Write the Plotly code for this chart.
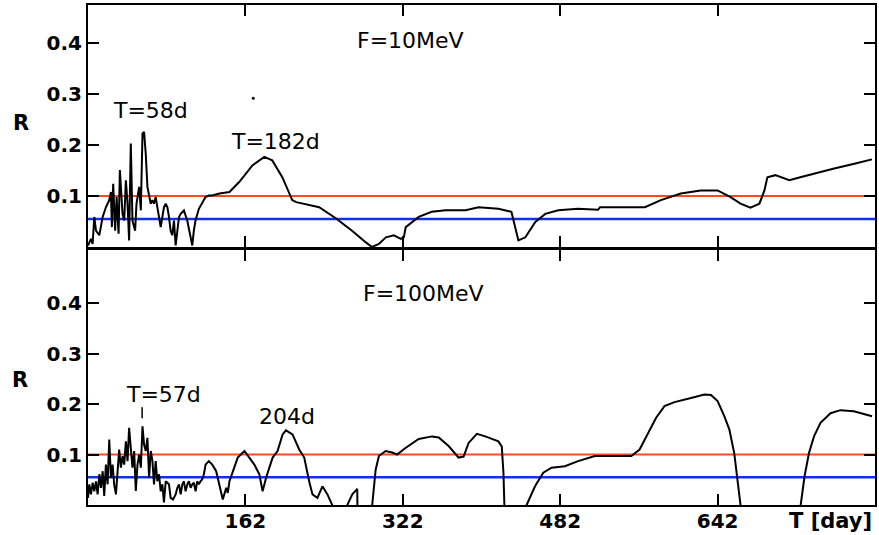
import plotly.graph_objects as go
from plotly.subplots import make_subplots

# ---------------- data ----------------
tick_days = [162, 322, 482, 642]
y_ticks = [0.1, 0.2, 0.3, 0.4]
red_level = 0.1
blue_level = 0.055

days_10 = [2, 5, 6.7, 8.4, 10.1, 13.5, 16.9, 20.2, 23.6, 25.3, 26.3, 27.6, 29.6, 31.1, 33.1,
           34.4, 37.1, 38.8, 40.5, 42.2, 43.8, 45.5, 47.2, 49.9, 51.3, 54, 55.7, 57.4, 59,
           60.7, 62.4, 64.1, 65.8, 67.5, 69.1, 70.8, 72.5, 74.2, 75.9, 77.6, 79.2, 81, 82.7,
           84.3, 86, 87.7, 89.4, 91.1, 92.8, 94.5, 96.2, 99.5, 102.9, 106.3, 108, 109.6,
           111.3, 114.7, 118.1, 121.5, 124.8, 128.2, 135.7, 145.8, 155.9, 169.1, 181.2,
           189.3, 199.5, 209.6, 213.7, 237, 254.2, 270.4, 284.5, 290.6, 297.7, 304.8, 312.9,
           320, 323, 325, 338.2, 351.4, 365.5, 385.8, 399, 419.2, 432.4, 434.4, 439.5, 446.6,
           456.7, 466.8, 480, 500.2, 520.5, 522.5, 568.1, 584.3, 604.6, 624.8, 642, 655.2,
           665.3, 675.4, 684.5, 689.6, 692.6, 700.7, 714.9, 726, 743, 760.5, 780, 798.9]
r_10 = [0.003, 0.016, 0.006, 0.059, 0.032, 0.023, 0.059, 0.078, 0.092, 0.108, 0.039, 0.124,
        0.032, 0.098, 0.026, 0.151, 0.065, 0.052, 0.131, 0.085, 0.013, 0.203, 0.052, 0.032,
        0.085, 0.118, 0.072, 0.223, 0.226, 0.183, 0.118, 0.098, 0.085, 0.092, 0.085, 0.098,
        0.078, 0.052, 0.039, 0.059, 0.078, 0.085, 0.078, 0.059, 0.032, 0.023, 0.052, 0.003,
        0.032, 0.059, 0.065, 0.072, 0.052, 0.023, 0.003, 0.032, 0.052, 0.075, 0.088, 0.098,
        0.101, 0.101, 0.105, 0.108, 0.128, 0.160, 0.177, 0.170, 0.137, 0.092, 0.088, 0.078,
        0.056, 0.032, 0.009, 0.0, 0.006, 0.019, 0.023, 0.016, 0.019, 0.039, 0.059, 0.069,
        0.072, 0.072, 0.078, 0.075, 0.069, 0.052, 0.013, 0.019, 0.049, 0.065, 0.072, 0.075,
        0.073, 0.078, 0.078, 0.092, 0.105, 0.111, 0.111, 0.098, 0.085, 0.077, 0.085, 0.111,
        0.137, 0.141, 0.131, 0.137, 0.146, 0.154, 0.163, 0.172]

days_100 = [2, 3.3, 5, 6.7, 8.4, 10.1, 11.8, 13.5, 15.2, 16.9, 18.5, 20.2, 21.9, 23.6, 25.3,
            27, 28.6, 30.4, 32.1, 33.7, 35.4, 37.1, 38.8, 40.5, 42.2, 43.8, 45.5, 47.2, 48.9,
            50.6, 52.3, 54, 55.7, 57.4, 59, 60.7, 62.4, 64.1, 65.8, 67.5, 69.1, 70.8, 72.5,
            74.2, 75.9, 77.6, 79.2, 81, 84.3, 86, 88.4, 91.1, 92.8, 94.5, 96.2, 97.9, 99.5,
            101.2, 103, 104.6, 106.3, 108, 109.6, 111.4, 113, 114.7, 116.4, 118.1, 119.8,
            121.5, 124.8, 128.3, 132.3, 135.7, 139, 142.5, 144.1, 145.8, 149.1, 154.2, 161,
            166.1, 171.1, 176.2, 179.5, 183, 189.7, 194.7, 199.8, 203.2, 209.9, 216.7, 221.8,
            226.8, 230.2, 235.2, 240.3, 245.4, 250.4, 257.2, 265.6, 270.7, 275.7, 276.1,
            282.5, 290.9, 294.4, 297.7, 304.5, 311.2, 316.2, 324.7, 338.2, 351.7, 358.5,
            368.6, 378.7, 383.8, 388.9, 397.3, 405.8, 419.2, 422.6, 424.3, 426, 437.5, 447.9,
            456.4, 464.8, 473.2, 486.8, 500.2, 517.2, 534, 554.3, 562.7, 571.1, 579.5, 588,
            598.2, 615, 628.6, 635.3, 642, 648.8, 653.9, 658.9, 662.3, 665.6, 668.4, 723,
            726.4, 730.4, 734.9, 740, 746.6, 756.8, 766.9, 780.5, 799]
r_100 = [0.014, 0.041, 0.021, 0.044, 0.027, 0.047, 0.021, 0.061, 0.034, 0.067, 0.018, 0.080,
         0.041, 0.130, 0.054, 0.080, 0.041, 0.021, 0.067, 0.110, 0.074, 0.097, 0.080, 0.126,
         0.087, 0.153, 0.113, 0.074, 0.107, 0.028, 0.080, 0.100, 0.074, 0.156, 0.120, 0.107,
         0.133, 0.054, 0.107, 0.087, 0.041, 0.087, 0.047, 0.061, 0.027, 0.041, 0.005, 0.047,
         0.041, 0.014, 0.011, 0.021, 0.034, 0.041, 0.021, 0.041, 0.047, 0.027, 0.041, 0.047,
         0.034, 0.041, 0.044, 0.027, 0.047, 0.041, 0.047, 0.051, 0.061, 0.080, 0.087, 0.080,
         0.067, 0.041, 0.011, 0.034, 0.024, 0.047, 0.067, 0.094, 0.107, 0.094, 0.080, 0.061,
         0.027, 0.054, 0.094, 0.107, 0.140, 0.148, 0.140, 0.110, 0.094, 0.047, 0.021, 0.014,
         0.037, 0.021, 0.0, -0.03, 0.0, 0.021, 0.032, -0.05, -0.05, 0.0, 0.070, 0.097, 0.107,
         0.104, 0.100, 0.113, 0.131, 0.136, 0.134, 0.117, 0.094, 0.096, 0.123, 0.141, 0.136,
         0.126, 0.116, 0.064, -0.05, -0.05, 0.0, 0.037, 0.064, 0.074, 0.077, 0.087, 0.097,
         0.097, 0.097, 0.110, 0.143, 0.173, 0.196, 0.204, 0.212, 0.219, 0.218, 0.206, 0.176,
         0.150, 0.103, 0.051, 0.0, -0.05, -0.05, 0.0, 0.057, 0.103, 0.136, 0.163, 0.182,
         0.188, 0.186, 0.176]

x_range = [2, 802]
top_range = [0, 0.475]
bot_range = [0, 0.5055]

# ---------------- figure ----------------
fig = make_subplots(rows=2, cols=1, shared_xaxes=False, vertical_spacing=0.0)

RED = "#ff4a1c"
BLUE = "#1030f0"

for row, days, vals in [(1, days_10, r_10), (2, days_100, r_100)]:
    fig.add_trace(go.Scatter(x=x_range, y=[red_level, red_level], mode="lines",
                             line=dict(color=RED, width=2), showlegend=False,
                             hoverinfo="skip"), row=row, col=1)
    fig.add_trace(go.Scatter(x=x_range, y=[blue_level, blue_level], mode="lines",
                             line=dict(color=BLUE, width=2.5), showlegend=False,
                             hoverinfo="skip"), row=row, col=1)
    fig.add_trace(go.Scatter(x=days, y=vals, mode="lines",
                             line=dict(color="black", width=2), showlegend=False),
                  row=row, col=1)

# stray dot in the upper panel
fig.add_trace(go.Scatter(x=[170], y=[0.292], mode="markers",
                         marker=dict(color="black", size=3), showlegend=False),
              row=1, col=1)

tick_font = dict(family="DejaVu Sans", size=20, color="black", weight="bold")
axis_common = dict(showgrid=False, zeroline=False, showline=True, linecolor="black",
                   linewidth=2, mirror="ticks", ticks="inside", ticklen=11, tickwidth=2,
                   tickcolor="black", tickfont=tick_font)

fig.update_xaxes(range=x_range, tickvals=tick_days, **axis_common)
fig.update_xaxes(showticklabels=False, row=1, col=1)
fig.update_xaxes(ticktext=[str(v) for v in tick_days], ticklabelstandoff=-3, row=2, col=1)
fig.update_yaxes(tickvals=y_ticks, ticktext=["0.1", "0.2", "0.3", "0.4"], **axis_common)
fig.update_yaxes(range=top_range, domain=[0.516, 1.0], row=1, col=1)
fig.update_yaxes(range=bot_range, domain=[0.0, 0.51], row=2, col=1)

# panel labels
ann_font = dict(family="DejaVu Sans", size=22, color="black")
bold_font = dict(family="DejaVu Sans", size=21, color="black", weight="bold")
annotations = [
    dict(text="F=10MeV", x=330, y=0.405, xref="x", yref="y", font=ann_font),
    dict(text="T=58d", x=66, y=0.267, xref="x", yref="y", font=ann_font),
    dict(text="T=182d", x=193, y=0.208, xref="x", yref="y", font=ann_font),
    dict(text="F=100MeV", x=343, y=0.4185, xref="x2", yref="y2", font=ann_font),
    dict(text="T=57d", x=79, y=0.219, xref="x2", yref="y2", font=ann_font),
    dict(text="204d", x=204.5, y=0.175, xref="x2", yref="y2", font=ann_font),
    dict(text="R", x=21, y=123, xref="paper", yref="paper", font=bold_font),
    dict(text="R", x=20, y=380, xref="paper", yref="paper", font=bold_font),
    dict(text="T [day]", x=832, y=521, xref="paper", yref="paper", font=bold_font),
]
W, H = 879, 535
ML, MR, MT, MB = 88, 2, 5, 30
for a in annotations:
    if a["xref"] == "paper":
        a["x"] = (a["x"] - ML) / (W - ML - MR)
        a["y"] = (H - MB - a["y"]) / (H - MT - MB)
    a["showarrow"] = False
    a["xanchor"] = "center"
    a["yanchor"] = "middle"
fig.update_layout(annotations=annotations)

# short marker under T=57d
fig.add_shape(type="line", x0=57, x1=57, y0=0.172, y1=0.194, xref="x2", yref="y2",
              line=dict(color="black", width=1.5))

fig.update_layout(width=W, height=H, margin=dict(l=ML, r=MR, t=MT, b=MB),
                  plot_bgcolor="white", paper_bgcolor="white", showlegend=False)

fig.write_html("out.html")
